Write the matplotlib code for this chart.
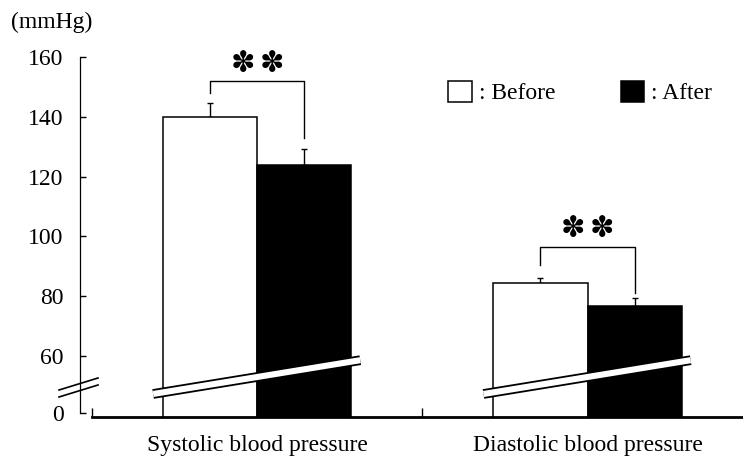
import numpy as np
import matplotlib.pyplot as plt

# --- data ---
categories = ["Systolic blood pressure", "Diastolic blood pressure"]
before_mean = [140, 84.3]
before_err = [4.6, 1.9]
after_mean = [124, 76.7]
after_err = [5.3, 2.7]
tick_values = [0, 60, 80, 100, 120, 140, 160]
bracket_top = [152, 96.6]
bracket_left_end = [148, 90.4]
bracket_right_end = [133, 81]

# --- axis break: real 0 is drawn at this position on the plotted scale ---
ZERO_POS = 41
def to_plot(v):
    return ZERO_POS if v == 0 else v

plt.rcParams['font.family'] = ['Liberation Serif', 'DejaVu Serif']
plt.rcParams['font.size'] = 17

fig = plt.figure(figsize=(7.43, 4.57), dpi=100)
W, H = 743, 457
ax = fig.add_axes([92 / W, 1 - 416.7 / H, 1 - 92 / W, (416.7 - 57) / H])

x = np.arange(len(categories))
width = 0.285
lw_bar = 1.1

b1 = ax.bar(x - width / 2, before_mean, width, color='white', edgecolor='black',
            linewidth=lw_bar, zorder=2)
b2 = ax.bar(x + width / 2, after_mean, width, color='black', edgecolor='black',
            linewidth=lw_bar, zorder=2)
ax.errorbar(x - width / 2, before_mean, yerr=[np.zeros(2), before_err], fmt='none',
            ecolor='black', elinewidth=1.0, capsize=2.2, capthick=1.0, zorder=1)
ax.errorbar(x + width / 2, after_mean, yerr=[np.zeros(2), after_err], fmt='none',
            ecolor='black', elinewidth=1.0, capsize=2.2, capthick=1.0, zorder=1)

# significance brackets
for i in range(len(categories)):
    xl, xr = x[i] - width / 2, x[i] + width / 2
    ax.plot([xl, xl, xr, xr], [bracket_left_end[i], bracket_top[i], bracket_top[i],
            bracket_right_end[i]], color='black', lw=1.0, zorder=3)
    for off in (-10.6, 10.6):
        ax.annotate("\u273D", (x[i], bracket_top[i] + 5.8), xytext=(off, 0),
                    textcoords='offset points', ha='center', va='center',
                    fontsize=21, family=['DejaVu Sans'])

# break bands across the bars
for i in range(len(categories)):
    xs = [x[i] - 0.315, x[i] + 0.312]
    ys = [47.3, 58.6]
    ax.plot(xs, ys, color='black', lw=7.0, solid_capstyle='butt', zorder=4)
    ax.plot(xs, ys, color='white', lw=4.4, solid_capstyle='butt', zorder=5)

ax.set_xlim(-0.5, (743 - 257) / 330.5)
ax.set_ylim(160 - (416.7 - 57) / 2.99, 160)

ax.set_xticks([-0.5, 0.5], minor=False)
ax.set_xticklabels([])
ax.set_xticks(x, minor=True)
ax.set_xticklabels(categories, minor=True)
ax.tick_params(axis='x', which='major', direction='in', length=6.5, width=1.0)
ax.tick_params(axis='x', which='minor', length=0, pad=13.5)

ax.set_yticks([to_plot(v) for v in tick_values])
ax.set_yticklabels([str(v) for v in tick_values])
ax.tick_params(axis='y', direction='in', length=4.5, width=1.0, pad=12)

for s in ['top', 'right']:
    ax.spines[s].set_visible(False)
ax.spines['left'].set_position(('outward', 8.6))
ax.spines['left'].set_bounds(ZERO_POS, 160)
ax.spines['left'].set_linewidth(0.9)
ax.spines['bottom'].set_linewidth(2.0)

# break marks on the y axis
tr = fig.transFigure
for dy in (0, 7):
    fig.add_artist(plt.Line2D([59 / W, 98 / W], [1 - (390 + dy) / H, 1 - (378 + dy) / H],
                              color='black', lw=1.2, transform=tr))

fig.text(52 / W, 1 - 22 / H, "(mmHg)", ha='center', va='center')

ax.legend([b1, b2], [": Before", ": After"], loc='upper right', ncol=2, frameon=False,
          bbox_to_anchor=(0.978, 0.98), handlelength=1.0, handleheight=1.0,
          handletextpad=0.3, columnspacing=2.75, borderaxespad=0.3)

fig.savefig("out.png", dpi=100)
